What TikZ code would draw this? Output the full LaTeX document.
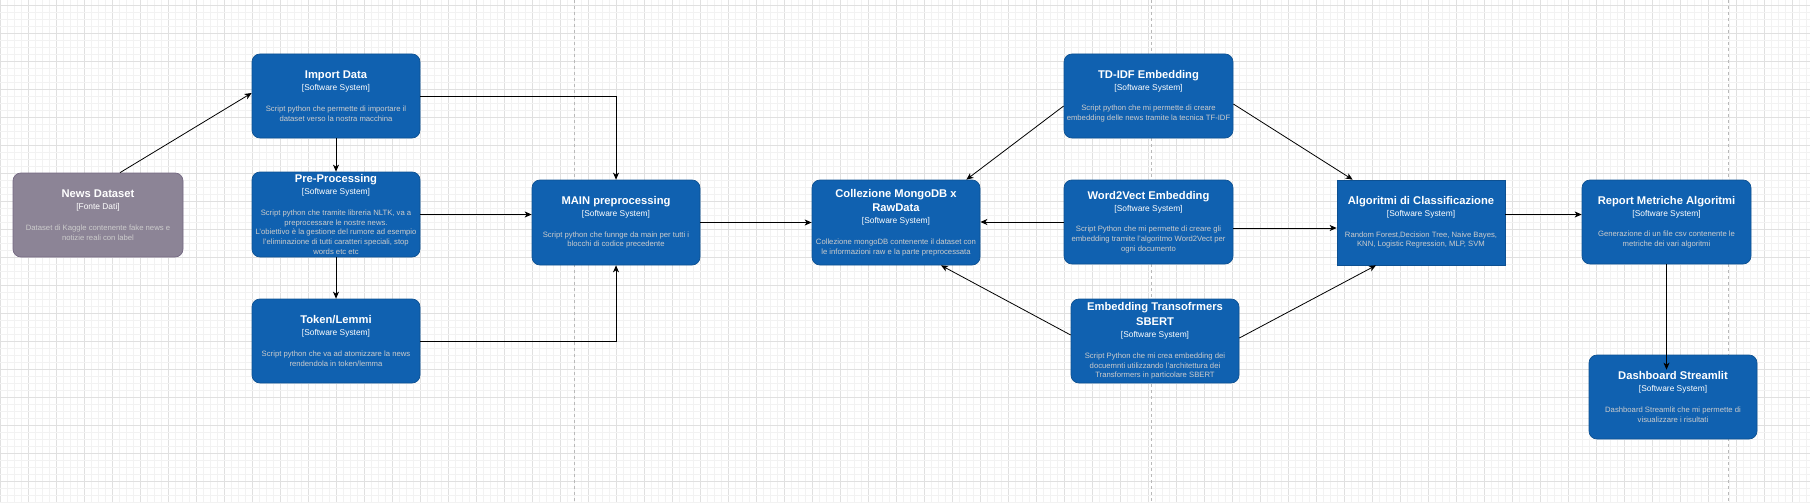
\documentclass[tikz,border=0pt]{standalone}
\usepackage{fontspec}
\setmainfont{Liberation Sans}
\usetikzlibrary{arrows.meta,calc}
\definecolor{c4blue}{HTML}{1061B0}
\definecolor{c4stroke}{HTML}{0D5091}
\definecolor{c4gray}{HTML}{8C8496}
\definecolor{c4graystroke}{HTML}{736782}
\definecolor{desccol}{HTML}{CCCCCC}
\definecolor{gridminor}{HTML}{F2F2F2}
\definecolor{gridmajor}{HTML}{E0E0E0}
\newcommand{\ttl}[1]{{\fontsize{11.2}{13.4}\selectfont\bfseries\color{white}#1}}
\newcommand{\typ}[1]{{\fontsize{8.4}{10}\selectfont\color{white}#1}}
\tikzset{
  sys/.style={rounded corners=8pt, fill=c4blue, draw=c4stroke, line width=0.7pt,
    minimum width=168pt, minimum height=84pt, align=center,
    text=desccol, inner sep=0pt, font=\fontsize{7.7}{9.7}\selectfont},
  sysext/.style={sys, fill=c4gray, draw=c4graystroke, minimum width=170pt},
  sysrect/.style={sys, sharp corners},
  arr/.style={draw=black, line width=0.8pt, -{Stealth[length=7pt,width=6pt,inset=2pt]}},
  pagebreak/.style={draw=gray!55, line width=0.8pt, dash pattern=on 3pt off 3pt},
}
\begin{document}
\begin{tikzpicture}[x=1pt,y=-1pt]
\useasboundingbox (0,0) rectangle (1810,503);
\fill[white] (0,0) rectangle (1810,503);
% grid
\foreach \i in {0,...,258} {
  \pgfmathtruncatemacro{\m}{mod(\i,4)}
  \ifnum\m=0 \draw[gridmajor, line width=0.6pt] (\i*7,0) -- (\i*7,503);
  \else \draw[gridminor, line width=0.6pt] (\i*7,0) -- (\i*7,503); \fi
}
\foreach \j in {0,...,71} {
  \pgfmathtruncatemacro{\m}{mod(\j,4)}
  \ifnum\m=0 \draw[gridmajor, line width=0.6pt] (0,5+\j*7) -- (1810,5+\j*7);
  \else \draw[gridminor, line width=0.6pt] (0,5+\j*7) -- (1810,5+\j*7); \fi
}
% page breaks
\draw[pagebreak] (574,0) -- (574,503);
\draw[pagebreak] (1151,0) -- (1151,503);
\draw[pagebreak] (1728,0) -- (1728,503);

% nodes
\node[sysext] (news) at (98,215) {\ttl{News Dataset}\\[2.3pt]\typ{[Fonte Dati]}\\[11pt]Dataset di Kaggle contenente fake news e\\notizie reali con label};
\node[sys] (imp) at (336,96) {\ttl{Import Data}\\[2.3pt]\typ{[Software System]}\\[11pt]Script python che permette di importare il\\dataset verso la nostra macchina};
\node[sys, minimum height=85pt] (pre) at (336,214.5) {\ttl{Pre-Processing}\\[2.3pt]\typ{[Software System]}\\[11pt]Script python che tramite libreria NLTK, va a\\preprocessare le nostre news.\\L'obiettivo è la gestione del rumore ad esempio\\l'eliminazione di tutti caratteri speciali, stop\\words etc etc};
\node[sys] (tok) at (336,341) {\ttl{Token/Lemmi}\\[2.3pt]\typ{[Software System]}\\[11pt]Script python che va ad atomizzare la news\\rendendola in token/lemma};
\node[sys, minimum height=85pt] (main) at (616,222.5) {\ttl{MAIN preprocessing}\\[2.3pt]\typ{[Software System]}\\[11pt]Script python che funnge da main per tutti i\\blocchi di codice precedente};
\node[sys, minimum height=85pt] (coll) at (896,222.5) {\ttl{Collezione MongoDB x}\\[3.7pt]\ttl{RawData}\\[2.3pt]\typ{[Software System]}\\[11pt]Collezione mongoDB contenente il dataset con\\le informazioni raw e la parte preprocessata};
\node[sys, minimum width=169pt] (tdidf) at (1148.5,96) {\ttl{TD-IDF Embedding}\\[2.3pt]\typ{[Software System]}\\[11pt]Script python che mi permette di creare\\embedding delle news tramite la tecnica TF-IDF};
\node[sys, minimum width=169pt] (w2v) at (1148.5,222) {\ttl{Word2Vect Embedding}\\[2.3pt]\typ{[Software System]}\\[11pt]Script Python che mi permette di creare gli\\embedding tramite l'algoritmo Word2Vect per\\ogni documento};
\node[sys] (sbert) at (1155,341) {\ttl{Embedding Transofrmers}\\[3.7pt]\ttl{SBERT}\\[2.3pt]\typ{[Software System]}\\[11pt]Script Python che mi crea embedding dei\\docuemnti utilizzando l'architettura dei\\Transformers in particolare SBERT};
\node[sysrect, minimum height=85pt] (algo) at (1421,222.5) {\ttl{Algoritmi di Classificazione}\\[2.3pt]\typ{[Software System]}\\[11pt]Random Forest,Decision Tree, Naive Bayes,\\KNN, Logistic Regression, MLP, SVM};
\node[sys, minimum width=169pt] (rep) at (1666.5,222) {\ttl{Report Metriche Algoritmi}\\[2.3pt]\typ{[Software System]}\\[11pt]Generazione di un file csv contenente le\\metriche dei vari algoritmi};
\node[sys] (dash) at (1673,397) {\ttl{Dashboard Streamlit}\\[2.3pt]\typ{[Software System]}\\[11pt]Dashboard Streamlit che mi permette di\\visualizzare i risultati};

% helper coordinates
\coordinate (w2vout) at ([yshift=-6pt]w2v.east);
\coordinate (algoout) at ([yshift=8pt]algo.east);
\coordinate (dashin) at ($(rep.south |- dash.north)+(0,15)$);

% connectors
\draw[arr] ([xshift=22pt]news.north) -- ([yshift=3pt]imp.west);
\draw[arr] (imp.east) -| (main.north);
\draw[arr] (imp.south) -- (pre.north);
\draw[arr] (pre.south) -- (tok.north);
\draw[arr] (pre.east) -- (pre.east -| main.west);
\draw[arr] (tok.east) -| (main.south);
\draw[arr] (main.east) -- (coll.west);
\draw[arr] ([yshift=-10pt]tdidf.west) -- ([xshift=-14pt]coll.north east);
\draw[arr] ([yshift=-8pt]tdidf.east) -- ([xshift=16pt]algo.north west);
\draw[arr] (w2v.west) -- (w2v.west -| coll.east);
\draw[arr] (w2vout) -- (w2vout -| algo.west);
\draw[arr] ([yshift=6pt]sbert.west) -- ([xshift=45pt]coll.south);
\draw[arr] ([yshift=3pt]sbert.east) -- ([xshift=-45pt]algo.south);
\draw[arr] (algoout) -- (algoout -| rep.west);
\draw[arr] (rep.south) -- (dashin);
\end{tikzpicture}
\end{document}
